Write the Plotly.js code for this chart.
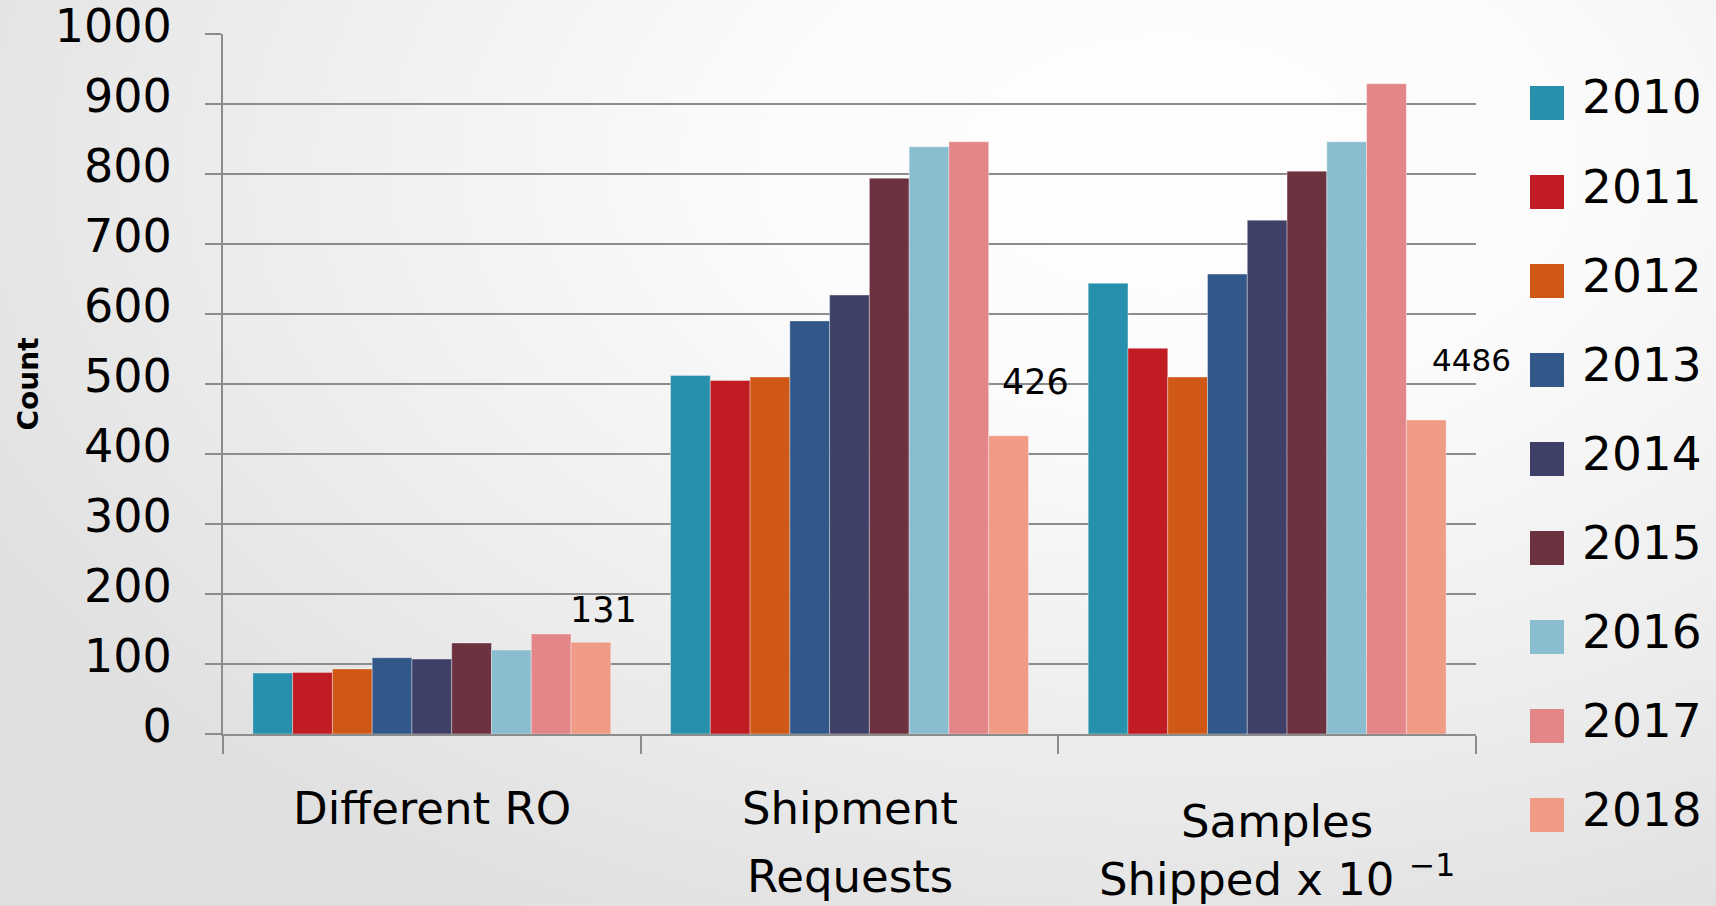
<!DOCTYPE html>
<html>
<head>
<meta charset="utf-8">
<script src="https://cdn.plot.ly/plotly-3.0.1.min.js"></script>
<style>
  html, body { margin:0; padding:0; width:1716px; height:906px; overflow:hidden;
    background: radial-gradient(ellipse 80% 95% at 68% 18%, #ffffff 0%, #fbfbfb 30%, #efefef 62%, #dfdfdf 100%); }
  #chart { width:1716px; height:906px; }
</style>
</head>
<body>
<div id="chart"></div>
<script>
// ---- data ----
const categories = ["Different RO", "Shipment Requests", "Samples Shipped x 10 -1"];
const categoryLines = [["Different RO"], ["Shipment", "Requests"], ["Samples", "Shipped x 10 <sup>−1</sup>"]];
const years = ["2010","2011","2012","2013","2014","2015","2016","2017","2018"];
const v2010 = [87, 512, 644];
const v2011 = [88, 505, 551];
const v2012 = [93, 510, 510];
const v2013 = [109, 590, 657];
const v2014 = [107, 627, 734];
const v2015 = [130, 794, 804];
const v2016 = [120, 839, 846];
const v2017 = [143, 846, 929];
const v2018 = [131, 426, 448.6];
const labels2018 = ["131", "426", "4486"];
const yTicks = [0,100,200,300,400,500,600,700,800,900,1000];

const seriesValues = [v2010, v2011, v2012, v2013, v2014, v2015, v2016, v2017, v2018];
const colors = ["#2790ac","#c11c24","#cf5817","#32588a","#3e4068","#6c3240","#8abdd0","#e38688","#ef9b85"];

const traces = years.map((yr, i) => ({
  type: "bar",
  name: yr,
  x: categories,
  y: seriesValues[i],
  marker: { color: colors[i], line: { color: "rgba(255,255,255,0.35)", width: 1 } },
  showlegend: false,
  hoverinfo: "name+y"
}));

// plot area geometry (pixels)
const W = 1716, H = 906;
const mL = 223, mR = 240, mT = 34, mB = 172;
const plotW = W - mL - mR, plotH = H - mT - mB;
const px2paperX = px => (px - mL) / plotW;
const px2paperY = py => (H - mB - py) / plotH;

const annotations = [];
// value labels for 2018 bars
const labelShiftX = [172, 186, 204];
const labelShiftY = [32, 54, 60];
const labelSize = [35, 35, 31];
categories.forEach((c, j) => {
  annotations.push({
    x: c, y: v2018[j], xref: "x", yref: "y",
    text: labels2018[j], showarrow: false,
    xanchor: "center", yanchor: "middle",
    xshift: labelShiftX[j], yshift: labelShiftY[j],
    font: { family: "DejaVu Sans", size: labelSize[j], color: "#000" }
  });
});

// category labels (per line, below the axis)
const lineY = [[808], [808, 877], [821, 877]];
const lineShiftX = [0, 0, 10];
categories.forEach((c, j) => {
  categoryLines[j].forEach((txt, k) => {
    annotations.push({
      x: c, xref: "x", yref: "paper", y: px2paperY(lineY[j][k]),
      xanchor: "center", yanchor: "middle", showarrow: false,
      xshift: lineShiftX[j],
      text: txt, font: { family: "DejaVu Sans", size: 45, color: "#000" }
    });
  });
});

// manual legend (large square swatches)
const shapes = [];
years.forEach((yr, i) => {
  const cy = 103 + 89 * i;
  shapes.push({
    type: "rect", xref: "paper", yref: "paper",
    x0: px2paperX(1530), x1: px2paperX(1564),
    y0: px2paperY(cy - 17), y1: px2paperY(cy + 17),
    fillcolor: colors[i], line: { width: 0 }
  });
  annotations.push({
    xref: "paper", yref: "paper", x: px2paperX(1580), y: px2paperY(cy - 6),
    xanchor: "left", yanchor: "middle", showarrow: false,
    text: yr, font: { family: "DejaVu Sans", size: 47, color: "#000" }
  });
});

const layout = {
  width: W, height: H,
  margin: { l: mL, r: mR, t: mT, b: mB, pad: 0 },
  paper_bgcolor: "rgba(0,0,0,0)",
  plot_bgcolor: "rgba(0,0,0,0)",
  barmode: "group",
  bargap: 0.143,
  bargroupgap: 0,
  font: { family: "DejaVu Sans", color: "#000" },
  xaxis: {
    type: "category",
    range: [-0.5, 2.5],
    autorange: false,
    tickmode: "array",
    tickvals: categories,
    showticklabels: false,
    tickson: "boundaries",
    ticks: "outside", ticklen: 18, tickwidth: 2, tickcolor: "#8c8c8c",
    showline: true, linecolor: "#8c8c8c", linewidth: 2,
    showgrid: false, zeroline: false
  },
  yaxis: {
    range: [0, 1000],
    autorange: false,
    tickmode: "array",
    tickvals: yTicks,
    ticktext: yTicks.map(String),
    ticks: "outside", ticklen: 16, tickwidth: 2, tickcolor: "#8c8c8c",
    showline: true, linecolor: "#8c8c8c", linewidth: 2,
    showgrid: true, gridcolor: "#8c8c8c", gridwidth: 2,
    zeroline: false,
    ticklabelstandoff: 24,
    ticklabelshift: -8,
    ticklabeloverflow: "allow",
    tickfont: { family: "DejaVu Sans", size: 46, color: "#000" },
    title: { text: "<b>Count</b>", standoff: 8, font: { family: "DejaVu Sans", size: 28, color: "#000" } }
  },
  shapes: shapes,
  annotations: annotations
};

Plotly.newPlot("chart", traces, layout, { displayModeBar: false, staticPlot: true });
</script>
</body>
</html>
